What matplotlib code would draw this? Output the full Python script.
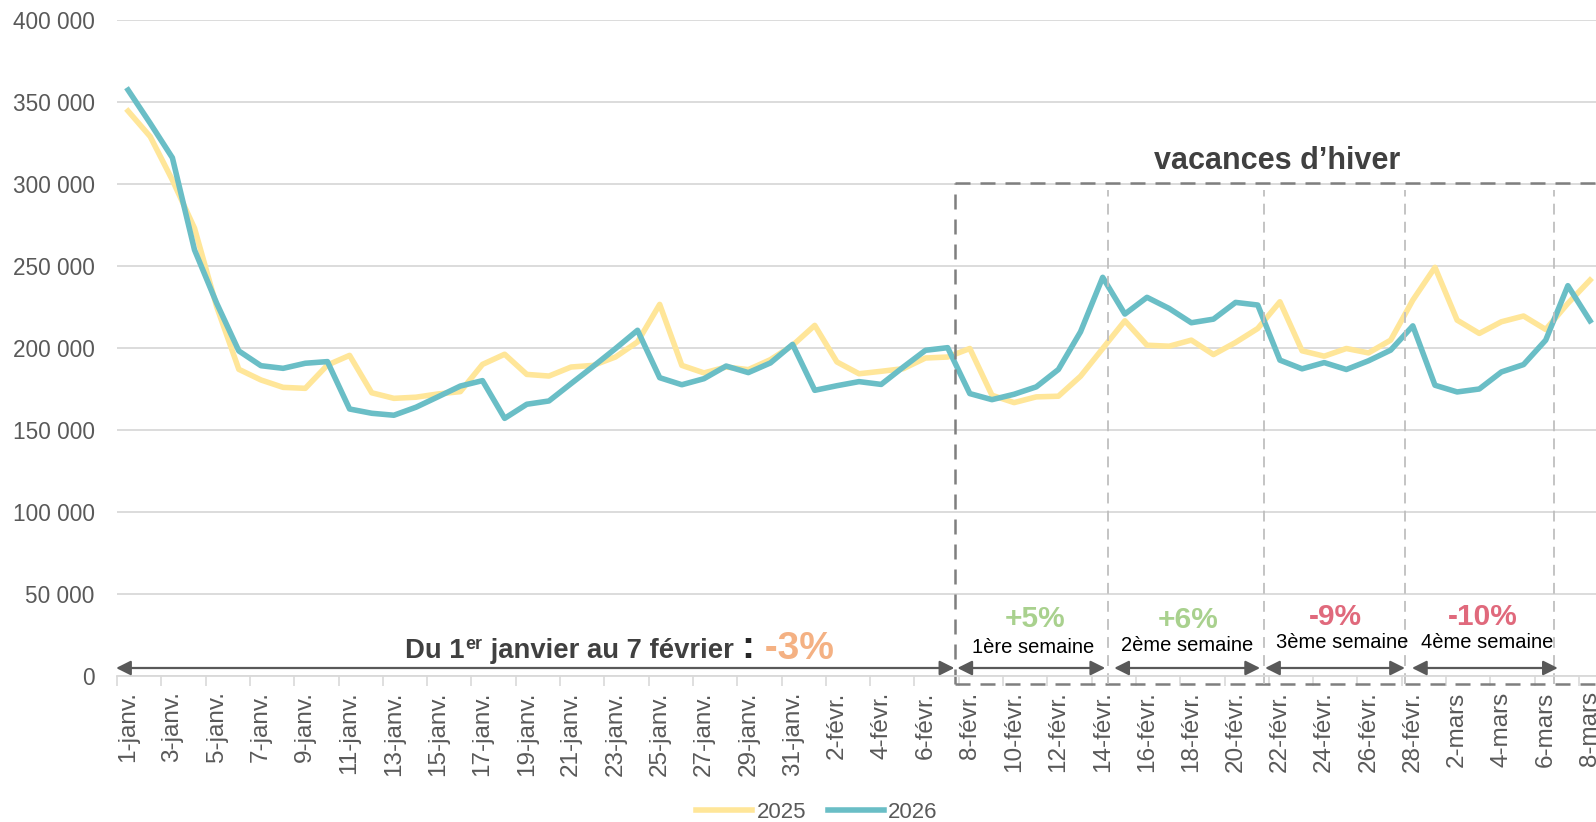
import matplotlib
matplotlib.use("Agg")
import matplotlib.pyplot as plt
from matplotlib.ticker import FuncFormatter
from matplotlib.lines import Line2D

plt.rcParams['font.family'] = ['Liberation Sans', 'DejaVu Sans']

# Dates : 1 janv. -> 8 mars
mois = ['janv.'] * 31 + ['févr.'] * 28 + ['mars'] * 8
jours = list(range(1, 32)) + list(range(1, 29)) + list(range(1, 9))
dates = [f"{j}-{m}" for j, m in zip(jours, mois)]

v2025 = [344500, 328900, 302400, 273000, 225200, 187000, 180500, 176000, 175400, 189600,
         195500, 172700, 169300, 170000, 172000, 173400, 190000, 196200, 183900, 182900,
         188400, 189400, 194500, 203700, 226600, 189400, 184800, 188400, 186800, 192900,
         201600, 213800, 191500, 184300, 185800, 187400, 193900, 194500, 199700, 171200,
         166700, 170200, 170600, 182800, 199700, 216600, 201700, 201100, 204800, 196000,
         203400, 211900, 228200, 198300, 195000, 199700, 197000, 204800, 229200, 249200,
         217000, 208900, 216000, 219500, 211300, 227200, 241400]
v2026 = [357300, 337000, 316000, 259800, 227300, 198200, 189200, 187600, 190700, 191700,
         162800, 160200, 159000, 163900, 170300, 176800, 180100, 157100, 165700, 167700,
         178300, 188800, 199600, 210800, 181900, 177600, 181300, 189000, 185000, 190900,
         202200, 174200, 177000, 179500, 177800, 188400, 198600, 200200, 172200, 168500,
         171800, 176300, 186900, 209900, 243100, 220700, 230900, 224100, 215400, 217600,
         227800, 226200, 192600, 187300, 191100, 186900, 192200, 198700, 213500, 177300,
         173200, 175000, 185400, 189900, 204800, 238000, 216600]

semaines = ['1ère semaine', '2ème semaine', '3ème semaine', '4ème semaine']
evolutions = ['+5%', '+6%', '-9%', '-10%']
evo_couleurs = ['#A9D18E', '#A9D18E', '#E0697C', '#E0697C']

W, H = 1596, 822
fig = plt.figure(figsize=(W / 100, H / 100), dpi=100)
ax = fig.add_axes([117 / W, 1 - 676 / H, (W - 117) / W, (676 - 20) / H])

x = list(range(len(dates)))
ax.plot(x, v2025, color='#FFE699', lw=4, solid_joinstyle='round', label='2025')
ax.plot(x, v2026, color='#6ABEC6', lw=4, solid_joinstyle='round', label='2026')

ax.set_xlim(-0.45, 66.27)
ax.set_ylim(0, 400000)
ax.set_yticks(range(0, 400001, 50000))
ax.yaxis.set_major_formatter(FuncFormatter(lambda v, p: f"{v:,.0f}".replace(",", " ")))
ax.grid(axis='y', color='#D9D9D9', lw=1.3)
ax.set_axisbelow(True)
for s in ['top', 'right', 'left']:
    ax.spines[s].set_visible(False)
ax.spines['bottom'].set_color('#D9D9D9')
ax.spines['bottom'].set_linewidth(1.3)

ax.set_xticks(x[::2])
ax.set_xticklabels(dates[::2], rotation=90, va='top', ha='center')
ax.set_xticks([i - 0.5 for i in range(0, 68, 2)], minor=True)
ax.tick_params(axis='x', which='major', length=0, pad=11, labelsize=17.5, labelcolor='#595959')
ax.tick_params(axis='x', which='minor', length=7, width=1.2, color='#D9D9D9')
ax.tick_params(axis='y', length=0, pad=16, labelsize=16.3, labelcolor='#595959')

# zone vacances
def px2x(px):
    return (px - 127) / 22.17

def px2y(py):
    return (676 - py) * 50000 / 82

box_l, box_t, box_b = px2x(955), px2y(183), px2y(684)
kw_box = dict(color='#7F7F7F', lw=1.8, ls=(0, (6, 4)), clip_on=False)
ax.add_line(Line2D([box_l, box_l], [box_b, box_t], **kw_box))
ax.add_line(Line2D([box_l, 70], [box_t, box_t], **kw_box))
ax.add_line(Line2D([box_l, 70], [box_b, box_b], **kw_box))
for px in [1108, 1264, 1405, 1554]:
    ax.add_line(Line2D([px2x(px)] * 2, [px2y(684), px2y(190)], color='#BFBFBF', lw=1.3,
                       ls=(0, (6, 4)), clip_on=False))

ax.text(px2x(1277), px2y(161), 'vacances d’hiver', fontsize=22, fontweight='bold',
        color='#404040', ha='center', va='center')

arrow_y = px2y(668)
arrows = [(115, 954), (957, 1105), (1114, 1260), (1265, 1405), (1412, 1558)]
for a, b in arrows:
    ax.annotate('', xy=(px2x(b), arrow_y), xytext=(px2x(a), arrow_y),
                arrowprops=dict(arrowstyle='<|-|>', mutation_scale=22, color='#595959',
                                lw=1.6, shrinkA=0, shrinkB=0), annotation_clip=False)

evo_pos = [(1035, 619), (1188, 620), (1335, 617), (1483, 617)]
sem_pos = [(1033, 647), (1187, 645), (1342, 642), (1487, 642)]
for lab, evo, c, (ex, ey), (sx, sy) in zip(semaines, evolutions, evo_couleurs, evo_pos, sem_pos):
    ax.text(px2x(ex), px2y(ey), evo, fontsize=21.5, fontweight='bold', color=c,
            ha='center', va='center')
    ax.text(px2x(sx), px2y(sy), lab, fontsize=14.5, color='black', ha='center', va='center')

# Du 1er janvier au 7 fevrier : -3%
fig.canvas.draw()
r = fig.canvas.get_renderer()

def piece(txt, xpx, base_px, **kw):
    t = fig.text(xpx / W, 1 - base_px / H, txt, ha='left', va='baseline', **kw)
    return t.get_window_extent(r).x1

xx = piece('Du 1', 405, 658, fontsize=19.8, fontweight='bold', color='#404040')
xx = piece('er', xx + 1, 649, fontsize=13, fontweight='bold', color='#404040')
xx = piece(' janvier au 7 février ', xx, 658, fontsize=19.8, fontweight='bold', color='#404040')
xx = piece(':', xx, 658, fontsize=28, fontweight='bold', color='#262626')
piece(' -3%', xx, 659, fontsize=28, fontweight='bold', color='#F4B183')

fig.legend(loc='center', bbox_to_anchor=(817 / W, 1 - 812 / H), ncol=2, frameon=False,
           fontsize=16, handlelength=2.5, handletextpad=0.2, columnspacing=1.0,
           labelcolor='#595959')

fig.savefig('out.png', dpi=100)
